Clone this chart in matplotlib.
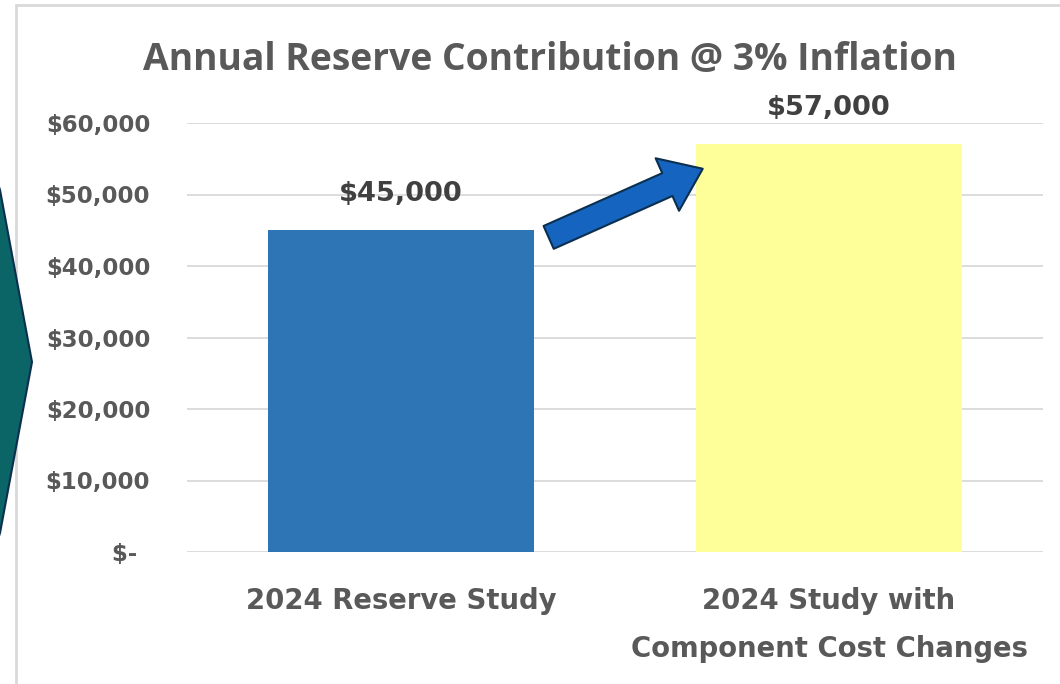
import matplotlib
matplotlib.use("Agg")
import matplotlib.pyplot as plt
from matplotlib.patches import Polygon, FancyArrowPatch, Rectangle, ArrowStyle

categories = ["2024 Reserve Study", "2024 Study with\nComponent Cost Changes"]
values = [45000, 57000]
value_labels = ["$45,000", "$57,000"]
yticks = [0, 10000, 20000, 30000, 40000, 50000, 60000]
ytick_labels = ["$- \u2009", "$10,000", "$20,000", "$30,000", "$40,000", "$50,000", "$60,000"]
bar_colors = ["#2E75B6", "#FFFF99"]
title = "Annual Reserve Contribution @ 3% Inflation"

plt.rcParams['font.family'] = ['DejaVu Sans']

W, H = 1060, 684
fig = plt.figure(figsize=(W / 100, H / 100), dpi=100)

# chart border (light gray)
fig.patches.append(Rectangle((16 / W, -0.05), 1.2, 1 - 5 / H + 0.05,
                             transform=fig.transFigure, fill=False,
                             edgecolor="#D9D9D9", linewidth=2.0, zorder=0))

# teal chevron on the left edge
fig.patches.append(Polygon([(-5 / W, 1 - 175 / H), (0 / W, 1 - 190 / H), (32 / W, 1 - 362 / H),
                            (0 / W, 1 - 533 / H), (-5 / W, 1 - 548 / H)],
                           closed=True, transform=fig.transFigure,
                           facecolor="#0B6466", edgecolor="#0B2F4F", linewidth=1.5, zorder=5))

ax_l, ax_r, ax_t, ax_b = 187, 1043, 123, 552
ax = fig.add_axes([ax_l / W, 1 - ax_b / H, (ax_r - ax_l) / W, (ax_b - ax_t) / H])

x = list(range(len(categories)))
bars = ax.bar(x, values, width=0.62, color=bar_colors, zorder=2)
ax.set_xlim(-0.5, 1.5)
ax.set_ylim(0, 60000)
ax.set_yticks(yticks)
ax.set_yticklabels(ytick_labels)
ax.set_xticks(x)
ax.set_xticklabels(categories)
ax.grid(axis="y", color="#D9D9D9", linewidth=1.3, zorder=0)
for s in ax.spines.values():
    s.set_visible(False)
ax.tick_params(axis="both", length=0)
ax.tick_params(axis="y", pad=26.5, labelsize=16.5, labelcolor="#595959")
ax.tick_params(axis="x", pad=25, labelsize=19.8, labelcolor="#595959")
for lbl in ax.get_yticklabels() + ax.get_xticklabels():
    lbl.set_fontweight("bold")
for lbl in ax.get_xticklabels():
    lbl.set_linespacing(1.92)

for xi, v, t in zip(x, values, value_labels):
    ax.annotate(t, (xi, v), xytext=(0, 17), textcoords="offset points",
                ha="center", va="bottom", fontsize=19.6, fontweight="bold",
                color="#404040", annotation_clip=False)

fig.text(550 / W, 1 - 60 / H, title, ha="center", va="center",
         fontsize=26.8, fontweight="bold", color="#595959", family="Open Sans")

# blue arrow between bars
arrow = FancyArrowPatch((0.345, 44000), (0.705, 53600),
                        arrowstyle=ArrowStyle("Simple", head_length=1.55, head_width=2.3, tail_width=1.0),
                        mutation_scale=18, facecolor="#1565C0", edgecolor="#0B2F4F",
                        linewidth=1.5, zorder=4, clip_on=False, shrinkA=0, shrinkB=0)
ax.add_patch(arrow)

fig.savefig("out.png", dpi=100)
